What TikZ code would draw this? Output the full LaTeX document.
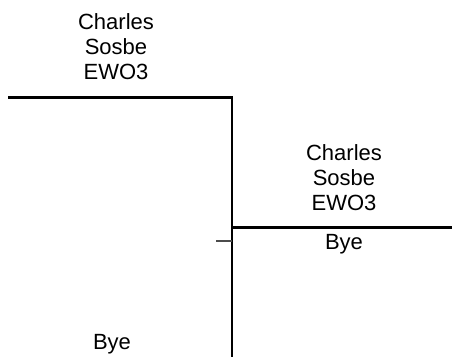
\documentclass[tikz,border=0pt]{standalone}
\usepackage{fontspec}
\setmainfont{Liberation Sans}
\usetikzlibrary{positioning}
\tikzset{
	player/.style={align=center, inner sep=0pt, font=\fontsize{22pt}{25pt}\selectfont},
	bracket/.style={line width=2.2pt},
	tick/.style={line width=1.2pt, black!70}
}
\begin{document}
\begin{tikzpicture}[x=1pt, y=-1pt]
	\useasboundingbox (0,0) rectangle (452,357);
	% round one
	\coordinate (a1) at (8,97.5);
	\coordinate (m1) at (232,97.5);
	\coordinate (m2) at (232,357);
	\node [player, anchor=south] (p1) at (116,80) {Charles\\Sosbe\\EWO3};
	\node [player, anchor=base] (p2) at (112,349) {Bye};
	% round two
	\coordinate (j) at (232,227.5);
	\coordinate (b1) at (452,227.5);
	\coordinate (t) at (216,241);
	\node [player, anchor=south] (w) at (344,211) {Charles\\Sosbe\\EWO3};
	\node [player, anchor=base] (wb) at (344,249) {Bye};
	\draw [bracket] (a1) -- (m1) -- (m2);
	\draw [bracket] (j) -- (b1);
	\draw [tick] (t) -- (t -| j);
\end{tikzpicture}
\end{document}
